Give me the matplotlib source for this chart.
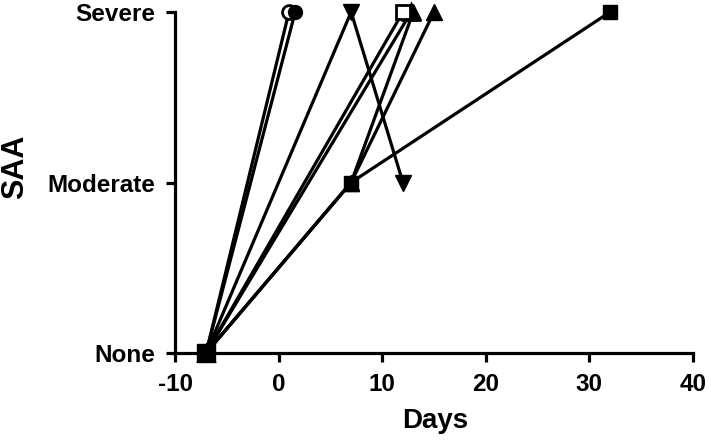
import matplotlib
matplotlib.use("Agg")
import matplotlib.pyplot as plt

plt.rcParams['font.family'] = ['Liberation Sans', 'DejaVu Sans']
plt.rcParams['font.weight'] = 'bold'
plt.rcParams['axes.unicode_minus'] = False

y_labels = ["None", "Moderate", "Severe"]

open_circle_x = [-7, 1]
open_circle_y = [0, 2]
filled_circle_x = [-7, 1.6]
filled_circle_y = [0, 2]
down_tri_x = [-7, 7, 12]
down_tri_y = [0, 2, 1]
open_square_x = [-7, 12]
open_square_y = [0, 2]
open_tri_x = [-7, 12.8]
open_tri_y = [0, 2]
tri_a_x = [-7, 7, 13]
tri_a_y = [0, 1, 2]
tri_b_x = [-7, 7, 15]
tri_b_y = [0, 1, 2]
filled_square_x = [-7, 7, 32]
filled_square_y = [0, 1, 2]

W, H = 709, 440
fig = plt.figure(figsize=(W / 100, H / 100), dpi=100)
ax = fig.add_axes([175 / W, 1 - 353 / H, (693 - 175) / W, (353 - 12) / H])

lw = 2.3
kw = dict(color='black', linewidth=lw, clip_on=False)
ax.plot(open_circle_x, open_circle_y, marker='o', markersize=10, markerfacecolor='white',
        markeredgecolor='black', markeredgewidth=2, **kw)
ax.plot(filled_circle_x, filled_circle_y, marker='o', markersize=10, **kw)
ax.plot(down_tri_x, down_tri_y, marker='v', markersize=11, **kw)
ax.plot(open_tri_x, open_tri_y, marker='^', markersize=11, markerfacecolor='white',
        markeredgecolor='black', markeredgewidth=2, **kw)
ax.plot(tri_a_x, tri_a_y, marker='^', markersize=11, **kw)
ax.plot(tri_b_x, tri_b_y, marker='^', markersize=11, **kw)
ax.plot(open_square_x, open_square_y, marker='s', markersize=10, markerfacecolor='white',
        markeredgecolor='black', markeredgewidth=2, **kw)
ax.plot(filled_square_x, filled_square_y, marker='s', markersize=10.5, **kw)
# large square at start point
ax.plot(filled_square_x[:1], filled_square_y[:1], marker='s', markersize=13,
        color='black', linestyle='none', clip_on=False, zorder=5)

ax.set_xlim(-10, 40)
ax.set_ylim(0, 2)
ax.set_xticks([-10, 0, 10, 20, 30, 40])
ax.set_yticks([0, 1, 2])
ax.set_yticklabels(y_labels)

for s in ['top', 'right']:
    ax.spines[s].set_visible(False)
for s in ['left', 'bottom']:
    ax.spines[s].set_linewidth(2.3)
ax.tick_params(axis='both', direction='out', length=6.5, width=2.3, pad=8,
               labelsize=17.5)
for lab in ax.get_xticklabels() + ax.get_yticklabels():
    lab.set_fontweight('bold')

fig.text(435 / W, 1 - 421 / H, "Days", ha='center', va='center', fontsize=20,
         fontweight='bold')
fig.text(15 / W, 1 - 167 / H, "SAA", ha='center', va='center', fontsize=22,
         fontweight='bold', rotation=90)

fig.savefig("out.png", dpi=100)
